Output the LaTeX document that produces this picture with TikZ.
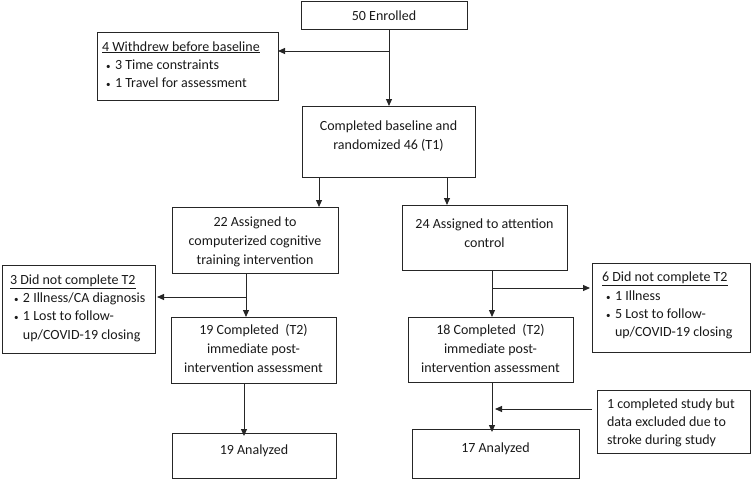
\documentclass[tikz,border=0pt]{standalone}
\usepackage{fontspec}
\setmainfont{Carlito}
\usetikzlibrary{arrows.meta}
\begin{document}
\begin{tikzpicture}[x=1pt,y=-1pt,
  box/.style={draw=black!85,line width=0.9pt,rectangle,inner sep=0pt,outer sep=0pt},
  txt/.style={inner sep=0pt,outer sep=0pt,font=\fontsize{14}{19}\selectfont,text=black!90},
  ltxt/.style={txt,align=left,anchor=west,font=\fontsize{14}{18.3}\selectfont},
  ctxt/.style={txt,align=center},
  arr/.style={line width=1pt,draw=black!85,-{Triangle[length=7pt,width=6pt]}}]
\useasboundingbox (0,0) rectangle (752,479);
\newcommand{\bul}{\hspace*{4pt}\makebox[9pt][l]{\small•}}
\newcommand{\bulc}{\hspace*{4pt}\makebox[9pt][l]{}}
% boxes
\node[box,minimum width=166,minimum height=28] (E) at (384,15) {};
\node[box,minimum width=181,minimum height=68] (W) at (187.5,66) {};
\node[box,minimum width=173,minimum height=71] (B) at (388.5,141.5) {};
\node[box,minimum width=166,minimum height=66] (A1) at (255,240) {};
\node[box,minimum width=165,minimum height=65] (A2) at (484.5,237.5) {};
\node[box,minimum width=153,minimum height=88] (D1) at (78.5,309) {};
\node[box,minimum width=158,minimum height=89] (D2) at (671,307.5) {};
\node[box,minimum width=165,minimum height=66] (C1) at (253.5,350) {};
\node[box,minimum width=165,minimum height=65] (C2) at (490.5,349.5) {};
\node[box,minimum width=164,minimum height=45] (N1) at (254,455.5) {};
\node[box,minimum width=167,minimum height=49] (N2) at (495.5,453.5) {};
\node[box,minimum width=153,minimum height=63] (X) at (673.5,421.5) {};
% texts
\node[ctxt] (Et) at (384,16) {50 Enrolled};
\node[ltxt] (Wt) at (102,64.5) {\underline{4 Withdrew before baseline}\\\bul 3 Time constraints\\\bul 1 Travel for assessment};
\node[ctxt] (Bt) at (388.5,136.5) {Completed baseline and\\randomized 46 (T1)};
\node[ctxt] (A1t) at (255,241.5) {22 Assigned to\\computerized cognitive\\training intervention};
\node[ctxt] (A2t) at (484.5,233) {24 Assigned to attention\\control};
\node[ltxt] (D1t) at (10,308) {\underline{3 Did not complete T2}\\\bul 2 Illness/CA diagnosis\\\bul 1 Lost to follow-\\\bulc up/COVID-19 closing};
\node[ltxt] (D2t) at (602,305.5) {\underline{6 Did not complete T2}\\\bul 1 Illness\\\bul 5 Lost to follow-\\\bulc up/COVID-19 closing};
\node[ctxt] (C1t) at (253.5,348) {19 Completed~ (T2)\\immediate post-\\intervention assessment};
\node[ctxt] (C2t) at (490.5,348) {18 Completed~ (T2)\\immediate post-\\intervention assessment};
\node[ctxt] (N1t) at (254,451) {19 Analyzed};
\node[ctxt] (N2t) at (495.5,449) {17 Analyzed};
\node[ltxt] (Xt) at (607,423) {1 completed study but\\data excluded due to\\stroke during study};
% connectors
\coordinate (eb) at (389,51);
\draw[arr] (eb |- E.south) -- (eb |- B.north);
\draw[arr] (eb) -- (W.east |- eb);
\coordinate (ba1) at (319,0);
\coordinate (ba2) at (447,0);
\draw[arr] (ba1 |- B.south) -- (ba1 |- A1.north);
\draw[arr] (ba2 |- B.south) -- (ba2 |- A2.north);
\coordinate (ac1) at (246,297);
\draw[arr] (ac1 |- A1.south) -- (ac1 |- C1.north);
\draw[arr] (ac1) -- ([xshift=2]D1.east |- ac1);
\coordinate (ac2) at (492,288);
\draw[arr] (ac2 |- A2.south) -- (ac2 |- C2.north);
\draw[arr] (ac2) -- ([xshift=-2]D2.west |- ac2);
\coordinate (cn1) at (244,0);
\draw[arr] (cn1 |- C1.south) -- ([yshift=-3]cn1 |- N1.north);
\coordinate (cn2) at (492,409);
\draw[arr] (cn2 |- C2.south) -- ([yshift=-3]cn2 |- N2.north);
\draw[arr] ([xshift=-5]X.west |- cn2) -- ([xshift=3]cn2);
\end{tikzpicture}
\end{document}
